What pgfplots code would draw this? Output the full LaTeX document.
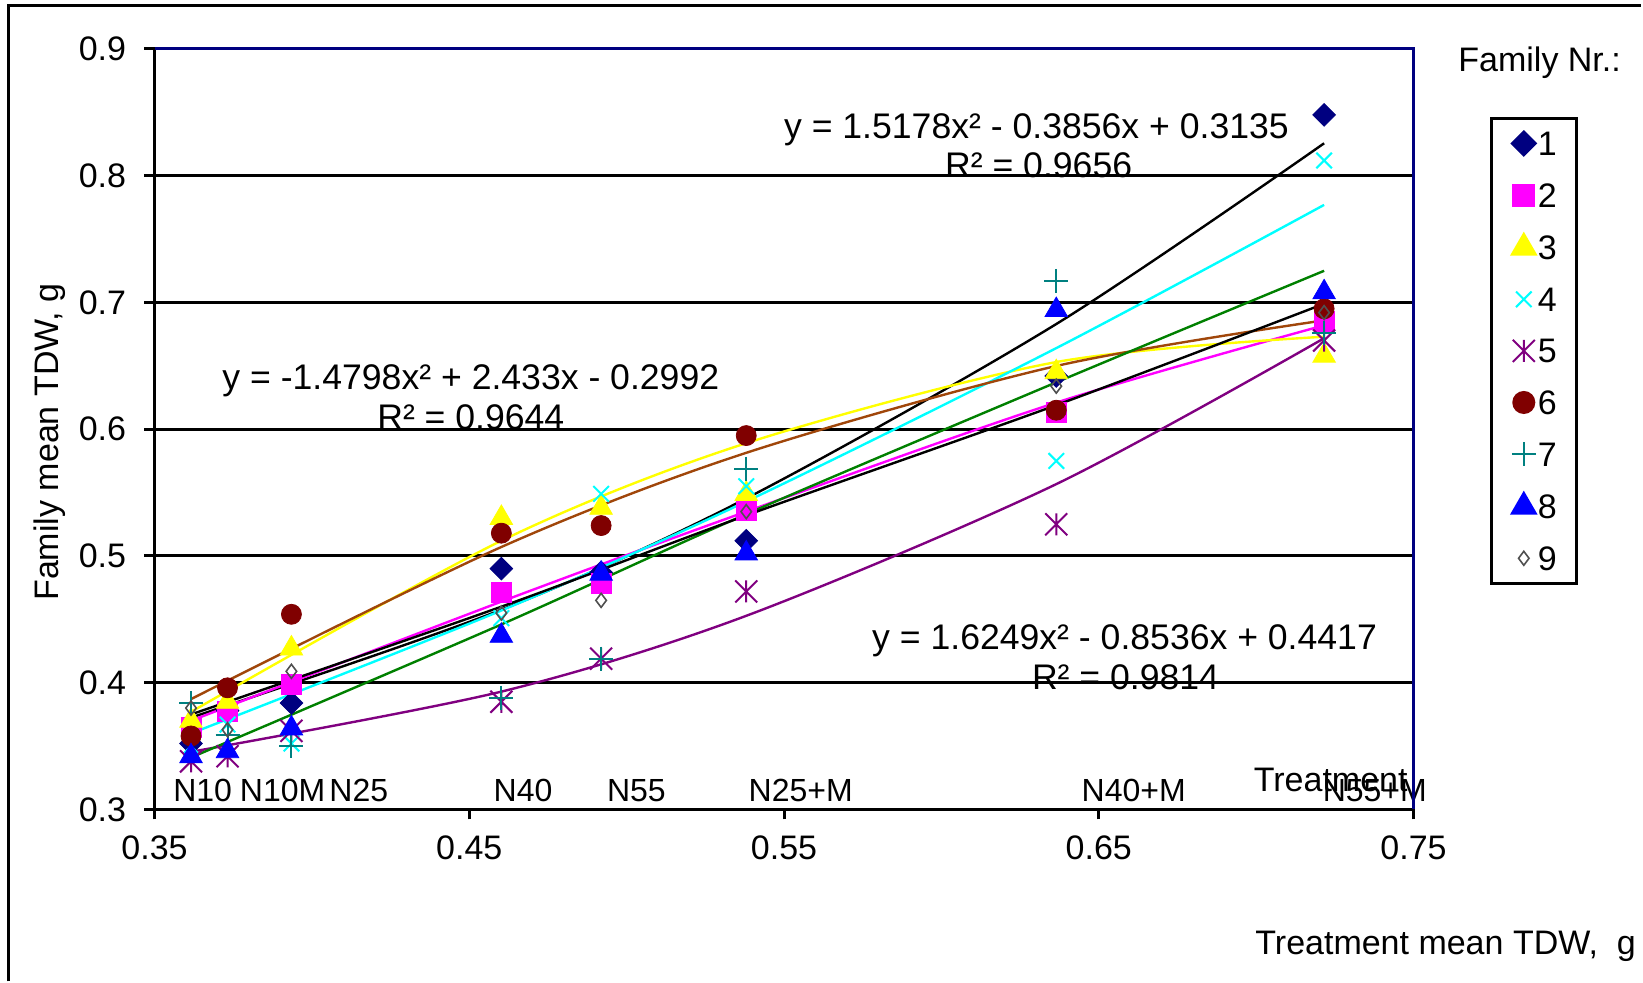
\documentclass[border=0pt]{standalone}
\usepackage{pgfplots}
\pgfplotsset{compat=1.18}
\usepackage{fontspec}
\setmainfont{Liberation Sans}
\definecolor{navyc}{RGB}{0,0,128}
\definecolor{magc}{RGB}{255,0,255}
\definecolor{yelc}{RGB}{255,255,0}
\definecolor{cyanc}{RGB}{0,255,255}
\definecolor{purc}{RGB}{128,0,128}
\definecolor{maroonc}{RGB}{128,0,0}
\definecolor{tealc}{RGB}{0,128,128}
\definecolor{bluec}{RGB}{0,0,255}
\definecolor{greyc}{RGB}{80,80,80}
\definecolor{brownc}{RGB}{160,70,10}
\definecolor{greenc}{RGB}{0,128,0}
\newcommand\cf{\fontsize{17}{20}\selectfont}
\newcommand\ef{\fontsize{17.8}{21}\selectfont}
\newcommand\nf{\fontsize{16}{19}\selectfont}
\pgfdeclareplotmark{xbar}{%
  \pgfpathmoveto{\pgfqpoint{-\pgfplotmarksize}{-\pgfplotmarksize}}%
  \pgfpathlineto{\pgfqpoint{\pgfplotmarksize}{\pgfplotmarksize}}%
  \pgfpathmoveto{\pgfqpoint{-\pgfplotmarksize}{\pgfplotmarksize}}%
  \pgfpathlineto{\pgfqpoint{\pgfplotmarksize}{-\pgfplotmarksize}}%
  \pgfpathmoveto{\pgfqpoint{0pt}{-\pgfplotmarksize}}%
  \pgfpathlineto{\pgfqpoint{0pt}{\pgfplotmarksize}}%
  \pgfusepathqstroke}

\begin{document}
\cf
\begin{tikzpicture}
\draw[line width=1.5pt] (4pt,0.8pt) -- (4pt,488.5pt) -- (820.7pt,488.5pt);
\node[anchor=base west,font=\cf,inner sep=0pt] at (729pt,455.5pt) {Family Nr.:};
\node[anchor=base west,font=\cf,inner sep=0pt] at (627.5pt,14pt) {Treatment mean TDW,\ \ g};
\node[rotate=90,anchor=center,font=\cf,inner sep=0pt] at (25pt,270.5pt) {Family mean TDW, g};
\begin{axis}[
  at={(77.25pt,86.75pt)}, anchor=south west,
  scale only axis, width=629.5pt, height=380.25pt,
  xmin=0.35, xmax=0.75, ymin=0.3, ymax=0.9,
  xtick={0.35,0.45,0.55,0.65,0.75},
  xticklabels={0.35,0.45,0.55,0.65,0.75},
  ytick={0.3,0.4,0.5,0.6,0.7,0.8,0.9},
  yticklabels={0.3,0.4,0.5,0.6,0.7,0.8,0.9},
  tick label style={font=\cf, inner sep=0pt},
  yticklabel style={xshift=-9pt},
  xticklabel style={yshift=-8pt},
  axis line style={draw=none},
  tick align=outside, major tick length=5pt,
  tick style={black, line width=1.5pt},
  xtick pos=left, ytick pos=left,
  clip=false,
  legend style={at={(1.061,0.9106)}, anchor=north west, draw=black, line width=1.5pt,
    font=\cf, inner xsep=10pt, inner ysep=6.5pt, row sep=13.8pt,
    nodes={inner sep=0pt, anchor=base west, text height=12pt, text depth=0pt},
    /tikz/every odd column/.append style={column sep=1pt}},
  legend image code/.code={\path[draw=none,fill=none] (-6pt,0pt) rectangle (6pt,12pt); \draw[#1] plot coordinates {(0pt,6pt)};},
]
% ---- equation texts (behind the grid) ----
\node[anchor=base,font=\ef] at (axis cs:0.6302,0.8291) {y = 1.5178x² - 0.3856x + 0.3135};
\node[anchor=base,font=\ef] at (axis cs:0.6309,0.7984) {R² = 0.9656};
\node[anchor=base,font=\ef] at (axis cs:0.4505,0.6310) {y = -1.4798x² + 2.433x - 0.2992};
\node[anchor=base,font=\ef] at (axis cs:0.4505,0.5995) {R² = 0.9644};
\node[anchor=base,font=\ef] at (axis cs:0.6582,0.4263) {y = 1.6249x² - 0.8536x + 0.4417};
\node[anchor=base,font=\ef] at (axis cs:0.6585,0.3948) {R² = 0.9814};
% ---- grid lines ----
\draw[black, line width=1.5pt] (axis cs:0.35,0.4) -- (axis cs:0.75,0.4);
\draw[black, line width=1.5pt] (axis cs:0.35,0.5) -- (axis cs:0.75,0.5);
\draw[black, line width=1.5pt] (axis cs:0.35,0.6) -- (axis cs:0.75,0.6);
\draw[black, line width=1.5pt] (axis cs:0.35,0.7) -- (axis cs:0.75,0.7);
\draw[black, line width=1.5pt] (axis cs:0.35,0.8) -- (axis cs:0.75,0.8);
% ---- markers (families 1-9) ----
\addplot[only marks, mark=square*, mark size=4pt, mark options={rotate=45, draw=navyc, fill=navyc}] table {
x y
0.3616 0.352
0.3732 0.378
0.3935 0.384
0.4602 0.490
0.4919 0.487
0.5380 0.512
0.6365 0.642
0.7216 0.848
};
\addplot[only marks, mark=square*, mark size=5pt, mark options={draw=magc, fill=magc}] table {
x y
0.3616 0.365
0.3732 0.377
0.3935 0.399
0.4602 0.471
0.4919 0.478
0.5380 0.536
0.6365 0.613
0.7216 0.685
};
\addplot[only marks, mark=triangle*, mark size=6.5pt, mark options={draw=yelc, fill=yelc}] table {
x y
0.3616 0.370
0.3732 0.385
0.3935 0.427
0.4602 0.530
0.4919 0.538
0.5380 0.549
0.6365 0.645
0.7216 0.658
};
\addplot[only marks, mark=x, mark size=5.5pt, mark options={draw=cyanc, line width=1pt}] table {
x y
0.3616 0.350
0.3732 0.367
0.3935 0.352
0.4602 0.451
0.4919 0.549
0.5380 0.555
0.6365 0.575
0.7216 0.812
};
\addplot[only marks, mark=xbar, mark size=5.5pt, mark options={draw=purc, line width=1pt}] table {
x y
0.3616 0.338
0.3732 0.342
0.3935 0.362
0.4602 0.385
0.4919 0.419
0.5380 0.472
0.6365 0.525
0.7216 0.670
};
\addplot[only marks, mark=*, mark size=5pt, mark options={draw=maroonc, fill=maroonc}] table {
x y
0.3616 0.358
0.3732 0.396
0.3935 0.454
0.4602 0.518
0.4919 0.524
0.5380 0.595
0.6365 0.615
0.7216 0.695
};
\addplot[only marks, mark=+, mark size=6pt, mark options={draw=tealc, line width=1pt}] table {
x y
0.3616 0.384
0.3732 0.359
0.3935 0.350
0.4602 0.388
0.4919 0.419
0.5380 0.569
0.6365 0.717
0.7216 0.676
};
\addplot[only marks, mark=triangle*, mark size=6.5pt, mark options={draw=bluec, fill=bluec}] table {
x y
0.3616 0.342
0.3732 0.346
0.3935 0.364
0.4602 0.437
0.4919 0.486
0.5380 0.502
0.6365 0.694
0.7216 0.708
};
\addplot[only marks, mark=diamond, mark size=3.5pt, mark options={draw=greyc, fill=white, line width=0.8pt}] table {
x y
0.3616 0.380
0.3732 0.363
0.3935 0.409
0.4602 0.455
0.4919 0.465
0.5380 0.535
0.6365 0.634
0.7216 0.692
};
\legend{1,2,3,4,5,6,7,8,9}
% ---- polynomial trendlines ----
\addplot[forget plot, smooth, black, line width=1.2pt] coordinates {(0.3616,0.3725) (0.4602,0.4576) (0.5380,0.5454) (0.6365,0.6830) (0.7216,0.8256)};
\addplot[forget plot, smooth, magc, line width=1.2pt] coordinates {(0.3616,0.370) (0.4602,0.464) (0.5380,0.535) (0.6365,0.621) (0.7216,0.682)};
\addplot[forget plot, smooth, yelc, line width=1.2pt] coordinates {(0.3616,0.377) (0.4602,0.512) (0.5380,0.589) (0.6365,0.653) (0.7216,0.673)};
\addplot[forget plot, smooth, cyanc, line width=1.2pt] coordinates {(0.3616,0.360) (0.4602,0.457) (0.5380,0.543) (0.6365,0.664) (0.7216,0.777)};
\addplot[forget plot, smooth, purc, line width=1.2pt] coordinates {(0.3616,0.3455) (0.4602,0.3930) (0.5380,0.4528) (0.6365,0.5567) (0.7216,0.6718)};
\addplot[forget plot, smooth, brownc, line width=1.2pt] coordinates {(0.3616,0.3871) (0.4602,0.5071) (0.5380,0.5814) (0.6365,0.6499) (0.7216,0.6859)};
\addplot[forget plot, smooth, greenc, line width=1.2pt] coordinates {(0.3616,0.341) (0.4602,0.446) (0.5380,0.533) (0.6365,0.637) (0.7216,0.725)};
\addplot[forget plot, smooth, black, line width=1.2pt] coordinates {(0.3616,0.375) (0.4602,0.460) (0.5380,0.532) (0.6365,0.619) (0.7216,0.699)};
% ---- treatment labels ----
\node[anchor=base,font=\nf] at (axis cs:0.3653,0.3062) {N10};
\node[anchor=base,font=\nf] at (axis cs:0.3907,0.3062) {N10M};
\node[anchor=base,font=\nf] at (axis cs:0.4149,0.3062) {N25};
\node[anchor=base,font=\nf] at (axis cs:0.4671,0.3062) {N40};
\node[anchor=base,font=\nf] at (axis cs:0.5031,0.3062) {N55};
\node[anchor=base,font=\nf] at (axis cs:0.5553,0.3062) {N25+M};
\node[anchor=base,font=\nf] at (axis cs:0.6611,0.3062) {N40+M};
\node[anchor=base,font=\nf] at (axis cs:0.7377,0.3062) {N55+M};
\node[anchor=base,font=\cf] at (axis cs:0.7237,0.3145) {Treatment};
% ---- axis frame ----
\draw[black, line width=1.5pt] (rel axis cs:0,0) -- (rel axis cs:1,0);
\draw[black, line width=1.5pt] (rel axis cs:0,0) -- (rel axis cs:0,1);
\draw[navyc, line width=1.5pt] (rel axis cs:0,1) -- (rel axis cs:1,1) -- (rel axis cs:1,0);
\end{axis}
\useasboundingbox (0,0) rectangle (821.5pt,491.5pt);
\end{tikzpicture}
\end{document}
